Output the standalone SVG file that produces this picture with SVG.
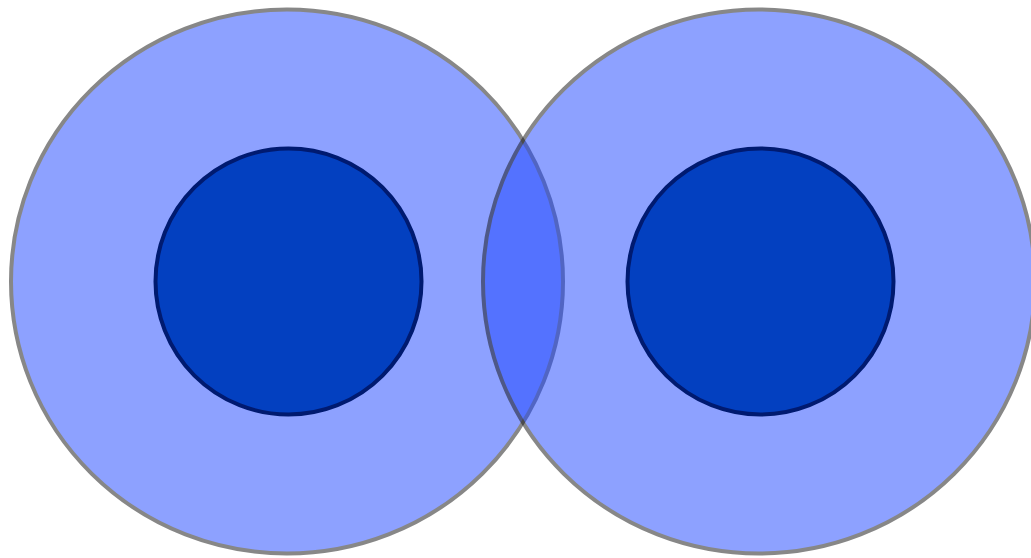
<svg xmlns="http://www.w3.org/2000/svg" width="1031" height="558" viewBox="0 0 1031 558">
<style>
.outer{fill:#1d45ff;stroke:#111;stroke-width:4;opacity:0.5}
.inner{fill:#0340c0;stroke:#001a70;stroke-width:4}
</style>
<rect width="1031" height="558" fill="#fff"/>
<g id="outer-left"><ellipse class="outer" cx="287" cy="281.5" rx="276" ry="272"/></g>
<g id="outer-right"><ellipse class="outer" cx="759" cy="281.5" rx="276" ry="272"/></g>
<g id="inner-left"><ellipse class="inner" cx="288.5" cy="281.5" rx="133" ry="133"/></g>
<g id="inner-right"><ellipse class="inner" cx="760.5" cy="281.5" rx="133" ry="133"/></g>
<g id="connectors"></g>
</svg>
